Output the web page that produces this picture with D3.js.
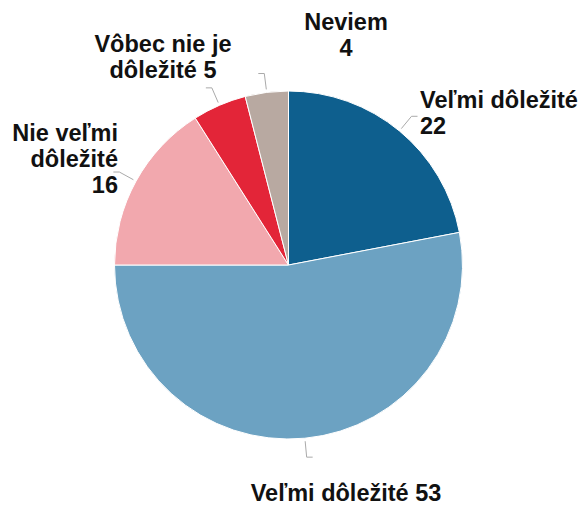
<!DOCTYPE html>
<html>
<head>
<meta charset="utf-8">
<script src="https://cdn.jsdelivr.net/npm/d3@7"></script>
<style>
  body { margin: 0; background: #fff; }
  text { font-family: "Liberation Sans", Arial, sans-serif; font-weight: bold; font-size: 23.5px; fill: #111; }
</style>
</head>
<body>
<script>
// Data (percent)
const categories = ["Veľmi dôležité", "Veľmi dôležité", "Nie veľmi dôležité", "Vôbec nie je dôležité", "Neviem"];
const values = [22, 53, 16, 5, 4];
const colors = ["#0e5f8e", "#6ca2c2", "#f2a8ae", "#e32538", "#b8a9a1"];

// Label text lines, as wrapped in the picture
const labelLines = [
  ["Veľmi dôležité", "22"],
  ["Veľmi dôležité 53"],
  ["Nie veľmi", "dôležité", "16"],
  ["Vôbec nie je", "dôležité 5"],
  ["Neviem", "4"]
];

const w = 585;
const h = 506;
const cx = 288.5, cy = 265, r = 174;

// label anchor positions (x, first baseline, text-anchor)
const labelPos = [
  [420, 108, "start"],
  [346, 501, "middle"],
  [118, 141, "end"],
  [163, 52, "middle"],
  [346, 30, "middle"]
];

const svg = d3.select("body").append("svg").attr("width", w).attr("height", h);

const pie = d3.pie().sort(null).value(function (d) { return d; });
const arcs = pie(values);
const arc = d3.arc().innerRadius(0).outerRadius(r);

const g = svg.append("g").attr("transform", "translate(" + cx + "," + cy + ")");

g.selectAll("path")
  .data(arcs)
  .enter()
  .append("path")
  .attr("d", arc)
  .attr("fill", function (d, i) { return colors[i]; })
  .attr("stroke", "#fff")
  .attr("stroke-width", 1);

// leader lines: short segment out from the slice, then a tiny horizontal tick
const leader = g.append("g");
arcs.forEach(function (d, i) {
  const a = (d.startAngle + d.endAngle) / 2;
  const p1 = [Math.sin(a) * (r + 3), -Math.cos(a) * (r + 3)];
  const p2 = [Math.sin(a) * (r + 19), -Math.cos(a) * (r + 19)];
  const dir = (i === 1 || i === 0) ? 1 : -1;
  const p3 = [p2[0] + dir * 6, p2[1]];
  leader.append("polyline")
    .attr("points", [p1, p2, p3].map(function (p) { return p.join(","); }).join(" "))
    .attr("fill", "none")
    .attr("stroke", "#aaa")
    .attr("stroke-width", 1);
});

labelLines.forEach(function (lines, i) {
  const pos = labelPos[i];
  const t = svg.append("text")
    .attr("text-anchor", pos[2]);
  lines.forEach(function (line, j) {
    t.append("tspan")
      .attr("x", pos[0])
      .attr("y", pos[1] + j * 26)
      .text(line);
  });
});
</script>
</body>
</html>
